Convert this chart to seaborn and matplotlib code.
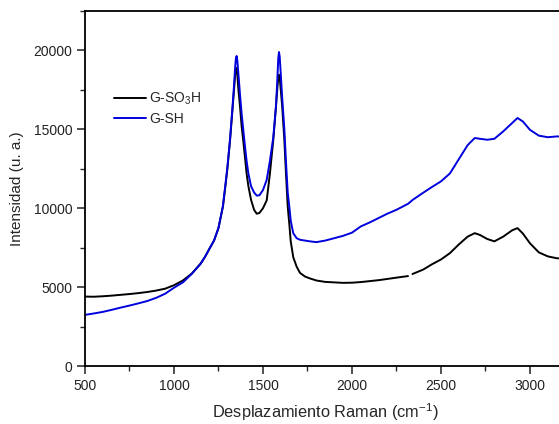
import numpy as np
import pandas as pd
import matplotlib
matplotlib.use("Agg")
import matplotlib.pyplot as plt
import seaborn as sns
from matplotlib.ticker import MultipleLocator

# Raman shift grid (cm^-1)
shift = [500, 550, 600, 650, 700, 750, 800, 850, 900, 950,
         1000, 1050, 1100, 1150, 1175, 1200, 1225, 1250, 1275, 1290,
         1300, 1315, 1330, 1338, 1344, 1348, 1352, 1356, 1362, 1371,
         1380, 1389, 1400, 1408, 1418, 1433, 1450, 1465, 1480, 1500,
         1521, 1539, 1558, 1573, 1580, 1586, 1590, 1594, 1600, 1608,
         1620, 1629, 1639, 1648, 1656, 1670, 1689, 1708, 1736, 1764,
         1800, 1850, 1900, 1950, 2000, 2050, 2100, 2150, 2200, 2250,
         2315, 2328, 2340, 2400, 2450, 2500, 2550, 2600, 2650, 2690,
         2720, 2760, 2800, 2850, 2900, 2930, 2960, 3000, 3050, 3100,
         3150, 3200]

# G-SO3H intensities (NaN = missing stretch of the spectrum)
g_so3h = [4400, 4390, 4420, 4460, 4510, 4560, 4620, 4690, 4780, 4900,
          5120, 5420, 5860, 6500, 6930, 7450, 7950, 8750, 10100, 11500,
          12500, 14300, 16450, 17600, 18500, 18900, 18850, 18450, 17500, 16450,
          15200, 14300, 13100, 12200, 11400, 10530, 9900, 9650, 9700, 10000,
          10500, 12200, 14340, 16450, 17500, 18300, 18460, 18300, 17500, 16450,
          14340, 12230, 10100, 9000, 7900, 6900, 6300, 5900, 5670, 5550,
          5420, 5330, 5300, 5270, 5280, 5320, 5380, 5440, 5520, 5600,
          5700, np.nan, 5830, 6110, 6450, 6750, 7150, 7700, 8200, 8420,
          8300, 8050, 7900, 8200, 8600, 8740, 8400, 7780, 7200, 6950,
          6830, 6800]

# G-SH intensities
g_sh = [3240, 3330, 3430, 3560, 3700, 3830, 3970, 4120, 4320, 4580,
        4960, 5300, 5840, 6480, 6930, 7450, 7950, 8750, 10150, 11600,
        12600, 14400, 16600, 17900, 19000, 19500, 19650, 19350, 18500, 17200,
        16000, 15000, 13800, 13000, 12200, 11400, 11000, 10800, 10820, 11150,
        11800, 13000, 14500, 16450, 18000, 19500, 19900, 19600, 18500, 17000,
        15000, 13000, 11000, 10100, 9200, 8420, 8100, 8000, 7950, 7900,
        7850, 7950, 8100, 8250, 8450, 8850, 9100, 9380, 9660, 9900,
        10280, 10400, 10520, 10980, 11350, 11700, 12200, 13100, 14000, 14450,
        14400, 14340, 14400, 14870, 15400, 15720, 15500, 14970, 14600, 14500,
        14550, 14550]

labels = ["G-SO$_3$H", "G-SH"]
colors = ["#000000", "#0000dd"]

frames = []
for name, vals in zip(labels, [g_so3h, g_sh]):
    d = pd.DataFrame({"shift": shift, "intensity": vals, "sample": name})
    # each unbroken run of the trace is its own segment
    d["segment"] = d["intensity"].isna().cumsum()
    frames.append(d.dropna())
df = pd.concat(frames, ignore_index=True)

sns.set_style("ticks")
plt.rcParams["font.family"] = ["Liberation Sans", "DejaVu Sans"]
plt.rcParams["mathtext.fontset"] = "custom"
plt.rcParams["mathtext.rm"] = "Liberation Sans"
plt.rcParams["mathtext.it"] = "Liberation Sans:italic"
plt.rcParams["mathtext.bf"] = "Liberation Sans:bold"

fig = plt.figure(figsize=(5.59, 4.24), dpi=100)
ax = fig.add_axes([85 / 559, 58 / 424, 480 / 559, 355 / 424])

sns.lineplot(data=df, x="shift", y="intensity", hue="sample", units="segment",
             estimator=None, palette=dict(zip(labels, colors)), hue_order=labels,
             linewidth=1.4, ax=ax, sort=False)

ax.set_xlim(500, 3197)
ax.set_ylim(0, 22500)
ax.xaxis.set_major_locator(MultipleLocator(500))
ax.xaxis.set_minor_locator(MultipleLocator(250))
ax.yaxis.set_major_locator(MultipleLocator(5000))
ax.yaxis.set_minor_locator(MultipleLocator(2500))
ax.tick_params(which="major", direction="out", length=6, width=1.1,
               labelsize=10, colors="#222222", pad=3)
ax.tick_params(which="minor", direction="out", length=3.5, width=1.0)
for s in ax.spines.values():
    s.set_linewidth(1.3)
    s.set_color("black")

ax.set_xlabel("Desplazamiento Raman (cm$^{-1}$)", fontsize=11.8, labelpad=6)
ax.set_ylabel("Intensidad (u. a.)", fontsize=11, labelpad=7)

leg = ax.legend(loc="upper left", bbox_to_anchor=(0.035, 0.81), frameon=False,
                fontsize=10, handlelength=2.3, handletextpad=0.2,
                labelspacing=0.3, title=None)

fig.savefig("out.png", dpi=100)
